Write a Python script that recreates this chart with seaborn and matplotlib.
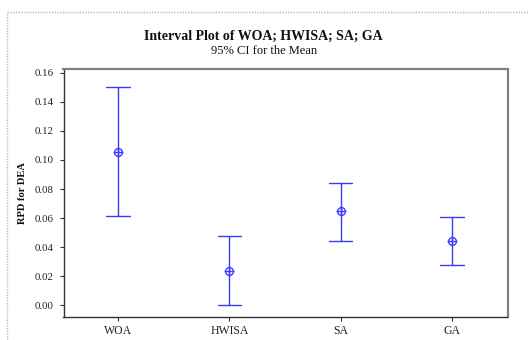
import numpy as np
import pandas as pd
import matplotlib
matplotlib.use("Agg")
import matplotlib.pyplot as plt
from matplotlib.lines import Line2D
import seaborn as sns

# ---- data ----
categories = ["WOA", "HWISA", "SA", "GA"]
means = [0.1055, 0.0237, 0.0648, 0.0441]
ci_low = [0.0612, 0.0000, 0.0446, 0.0280]
ci_high = [0.1501, 0.0478, 0.0844, 0.0609]
yticks = [0.00, 0.02, 0.04, 0.06, 0.08, 0.10, 0.12, 0.14, 0.16]

title = "Interval Plot of WOA; HWISA; SA; GA"
subtitle = "95% CI for the Mean"
ylabel = "RPD for DEA"

# long table: low / mean / high per group; median = mean, min..max = CI
rows = []
for c, lo, m, hi in zip(categories, ci_low, means, ci_high):
    for v in (lo, m, hi):
        rows.append({"group": c, "value": v})
df = pd.DataFrame(rows)

sns.set_theme(style="white")
plt.rcParams["font.family"] = ["Liberation Serif", "DejaVu Serif"]

blue = "#3c3cff"
fig = plt.figure(figsize=(5.28, 3.40), dpi=100)
ax = fig.add_axes([63.5 / 528, 1 - 316.7 / 340, (507.5 - 63.5) / 528, (316.7 - 69.0) / 340])

sns.pointplot(data=df, x="group", y="value", order=categories,
              estimator="median", errorbar=lambda v: (v.min(), v.max()),
              capsize=0.21, color=blue, linestyle="none", marker="o",
              markersize=5.6, markerfacecolor="none", markeredgewidth=1.0,
              err_kws={"linewidth": 1.0}, ax=ax)
sns.pointplot(data=df, x="group", y="value", order=categories,
              estimator="median", errorbar=None, color=blue,
              linestyle="none", marker="+", markersize=7.5,
              markeredgewidth=1.0, ax=ax)

ax.set_xlim(-0.49, 3.50)
ax.set_ylim(-0.0077, 0.1625)
ax.set_yticks(yticks)
ax.set_yticklabels([f"{t:.2f}" for t in yticks])
ax.set_xlabel("")
ax.set_ylabel(ylabel, fontsize=7.6, fontweight="bold", color="#111111", labelpad=5.5)
ax.tick_params(axis="y", labelsize=7.8, colors="#333333", length=3, width=0.8,
               direction="out", left=True, pad=4)
ax.tick_params(axis="x", labelsize=8.5, colors="#333333", length=3, width=0.8,
               direction="out", bottom=True, pad=3)
for lab in ax.get_xticklabels() + ax.get_yticklabels():
    lab.set_color("#222222")

for s in ("left", "bottom"):
    ax.spines[s].set_color("#333333")
    ax.spines[s].set_linewidth(1.0)
for s in ("top", "right"):
    ax.spines[s].set_color("#808080")
    ax.spines[s].set_linewidth(1.6)

fig.text(263.5 / 528, 1 - 36 / 340, title, ha="center", va="center",
         fontsize=10, fontweight="bold", color="#111111")
fig.text(264 / 528, 1 - 50.5 / 340, subtitle, ha="center", va="center",
         fontsize=9.0, color="#111111")

# dotted frame of the screenshot
fig.add_artist(Line2D([6.5 / 528, 1.0], [1 - 11.8 / 340, 1 - 11.8 / 340],
                      transform=fig.transFigure, color="#a9bdd6",
                      linestyle=(0, (1, 1)), linewidth=1.0))
fig.add_artist(Line2D([6.5 / 528, 6.5 / 528], [0.0, 1 - 11.8 / 340],
                      transform=fig.transFigure, color="#a9bdd6",
                      linestyle=(0, (1, 1)), linewidth=1.0))

fig.savefig("out.png", dpi=100, facecolor="white")
